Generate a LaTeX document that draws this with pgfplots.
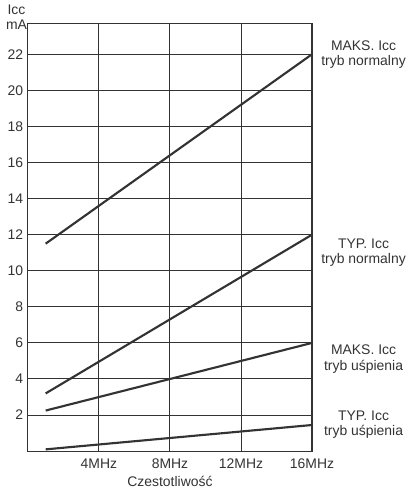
\documentclass[border=0pt]{standalone}
\usepackage{pgfplots}
\pgfplotsset{compat=1.18}
\usepackage{fontspec}
\setmainfont{Liberation Sans}
\definecolor{ink}{HTML}{333333}
\newcommand{\lbl}{\fontsize{10.5}{11.5}\selectfont}
\begin{document}
\begin{tikzpicture}
\path (-21pt,-28.5pt) rectangle (292.5pt,339.75pt);
\begin{axis}[
  at={(0,0)}, anchor=origin,
  scale only axis, width=214pt, height=322pt,
  xmin=0, xmax=16, ymin=0, ymax=23.7,
  xtick={4,8,12,16}, xticklabels={4MHz,8MHz,12MHz,16MHz},
  ytick={2,4,...,22},
  grid=major, grid style={ink, line width=0.75pt},
  axis line style={ink, line width=0.9pt},
  major tick length=0pt,
  tick label style={font=\lbl, text=ink},
  xticklabel style={yshift=-2pt},
  /pgf/number format/assume math mode=true,
  xlabel={Czestotliwość}, xlabel style={font=\lbl, text=ink, yshift=1pt},
  clip=false,
]
\addplot[ink, line width=1.6pt] coordinates {(1,11.5) (16,22)};
\addplot[ink, line width=1.6pt] coordinates {(1,3.2) (16,12)};
\addplot[ink, line width=1.6pt] coordinates {(1,2.25) (16,6)};
\addplot[ink, line width=1.6pt] coordinates {(1,0.1) (16,1.45)};
\begin{scope}[every node/.style={font=\lbl, text=ink, align=center}]
\node[anchor=south east, inner sep=0pt, xshift=-0.5pt] at (axis cs:0,23.35) {Icc\\mA};
\node at (axis cs:18.9,22) {MAKS. Icc\\tryb normalny};
\node at (axis cs:18.9,11.0) {TYP. Icc\\tryb normalny};
\node at (axis cs:18.9,5.1) {MAKS. Icc\\tryb uśpienia};
\node at (axis cs:18.9,1.45) {TYP. Icc\\tryb uśpienia};
\end{scope}
\end{axis}
\end{tikzpicture}
\end{document}
